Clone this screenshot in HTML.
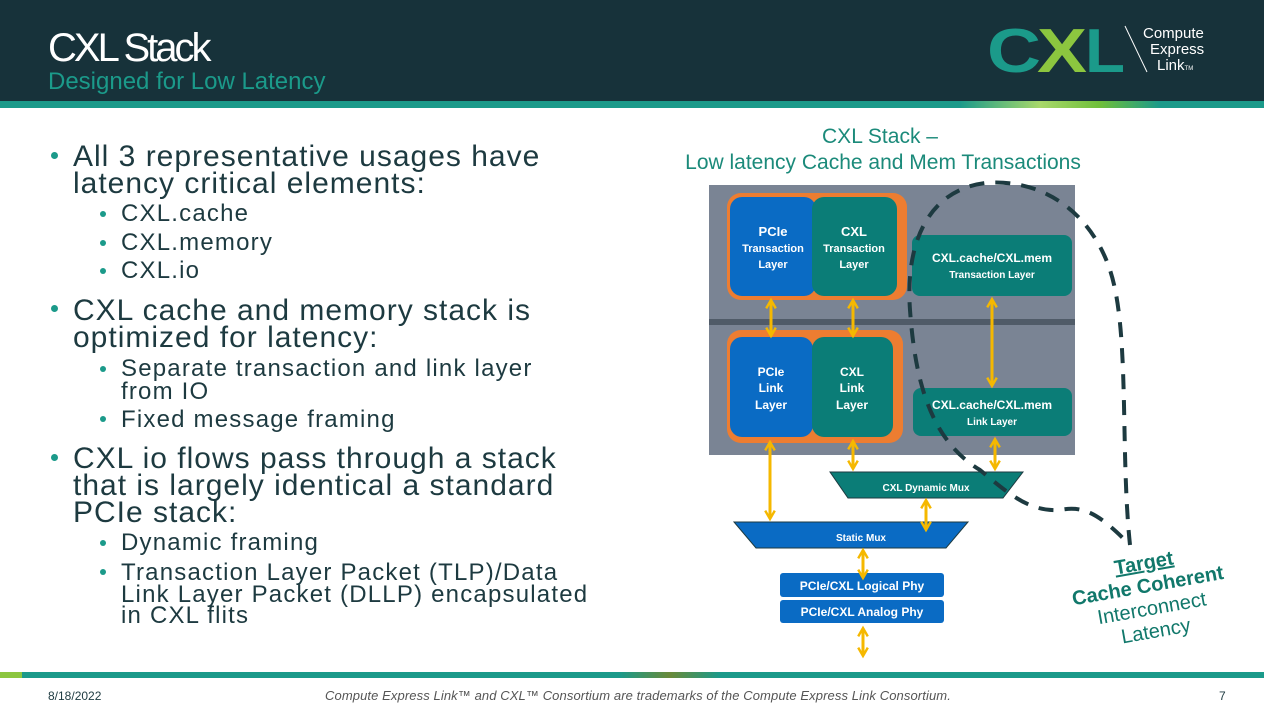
<!DOCTYPE html>
<html><head><meta charset="utf-8"><style>
*{margin:0;padding:0;box-sizing:border-box}
body{width:1264px;height:707px;position:relative;overflow:hidden;background:#fff;font-family:"Liberation Sans",sans-serif;}
.l{position:absolute;white-space:nowrap;color:#1d3a40;line-height:1;}
.m{font-size:30px;left:73px;letter-spacing:1px}
.s{font-size:24px;left:121px;letter-spacing:1.2px}
.b{position:absolute;border-radius:50%;background:#1b9a8a}
</style></head><body>
<div style="position:absolute;left:0;top:0;width:1264px;height:101px;background:#17323a"></div>
<div style="position:absolute;left:0;top:101px;width:1264px;height:7px;background:#1b9a8a"></div>
<div style="position:absolute;left:960px;top:101px;width:200px;height:7px;background:linear-gradient(90deg,#1b9a8a,#a8d86a 40%,#6fbf3a 70%,#1b9a8a)"></div>
<div class="l" style="left:48px;top:28px;font-size:40px;color:#fff;letter-spacing:-3px;font-family:'Liberation Sans Narrow','Liberation Sans',sans-serif">CXL Stack</div>
<div class="l" style="left:48px;top:70px;font-size:24px;color:#1b9a8a">Designed for Low Latency</div>
<svg style="position:absolute;left:985px;top:20px" width="250" height="60">
<text x="2" y="52" font-family="Liberation Sans" font-weight="bold" font-size="62" fill="#1b9a8a" textLength="54" lengthAdjust="spacingAndGlyphs">C</text>
<text x="52" y="52" font-family="Liberation Sans" font-weight="bold" font-size="62" fill="#8cc63f" textLength="50" lengthAdjust="spacingAndGlyphs">X</text>
<text x="100" y="52" font-family="Liberation Sans" font-weight="bold" font-size="62" fill="#1b9a8a" textLength="40" lengthAdjust="spacingAndGlyphs">L</text>
<line x1="140" y1="6" x2="162" y2="52" stroke="#fff" stroke-width="1"/>
<text x="158" y="18" font-family="Liberation Sans" font-size="15" fill="#fff">Compute</text>
<text x="165" y="34" font-family="Liberation Sans" font-size="15" fill="#fff">Express</text>
<text x="172" y="50" font-family="Liberation Sans" font-size="15" fill="#fff">Link<tspan font-size="6">TM</tspan></text>
</svg>

<div class="b" style="left:51px;top:152px;width:7px;height:7px"></div>
<div class="l m" style="top:142px">All 3 representative usages have</div>
<div class="l m" style="top:169px">latency critical elements:</div>
<div class="b" style="left:100px;top:211px;width:6px;height:6px"></div>
<div class="l s" style="top:202px">CXL.cache</div>
<div class="b" style="left:100px;top:240px;width:6px;height:6px"></div>
<div class="l s" style="top:231px">CXL.memory</div>
<div class="b" style="left:100px;top:268px;width:6px;height:6px"></div>
<div class="l s" style="top:259px">CXL.io</div>
<div class="b" style="left:51px;top:305px;width:7px;height:7px"></div>
<div class="l m" style="top:296px">CXL cache and memory stack is</div>
<div class="l m" style="top:323px">optimized for latency:</div>
<div class="b" style="left:100px;top:366px;width:6px;height:6px"></div>
<div class="l s" style="top:357px">Separate transaction and link layer</div>
<div class="l s" style="top:380px">from IO</div>
<div class="b" style="left:100px;top:416px;width:6px;height:6px"></div>
<div class="l s" style="top:408px">Fixed message framing</div>
<div class="b" style="left:51px;top:454px;width:7px;height:7px"></div>
<div class="l m" style="top:444px">CXL io flows pass through a stack</div>
<div class="l m" style="top:471px">that is largely identical a standard</div>
<div class="l m" style="top:498px">PCIe stack:</div>
<div class="b" style="left:100px;top:540px;width:6px;height:6px"></div>
<div class="l s" style="top:531px">Dynamic framing</div>
<div class="b" style="left:100px;top:569px;width:6px;height:6px"></div>
<div class="l s" style="top:561px">Transaction Layer Packet (TLP)/Data</div>
<div class="l s" style="top:583px">Link Layer Packet (DLLP) encapsulated</div>
<div class="l s" style="top:604px">in CXL flits</div>

<div class="l" style="left:630px;top:126px;width:500px;text-align:center;font-size:21px;color:#1b8a7a">CXL Stack –</div>
<div class="l" style="left:633px;top:152px;width:500px;text-align:center;font-size:21px;color:#1b8a7a">Low latency Cache and Mem Transactions</div>

<svg style="position:absolute;left:0;top:0" width="1264" height="707">
<defs>
<marker id="ah" viewBox="0 0 10 10" refX="8" refY="5" markerWidth="4" markerHeight="4" orient="auto-start-reverse"><path d="M1,1 L8,5 L1,9" fill="none" stroke="#f5b800" stroke-width="2"/></marker>
</defs>
<rect x="709" y="185" width="366" height="270" fill="#7a8494"/>
<rect x="709" y="319" width="366" height="6" fill="#505b68"/>
<rect x="727" y="193" width="180" height="107" rx="14" fill="#ed7d31"/>
<rect x="730" y="197" width="86" height="99" rx="12" fill="#0a6bc4"/>
<rect x="812" y="197" width="85" height="99" rx="12" fill="#0b7d77"/>
<rect x="912" y="235" width="160" height="61" rx="8" fill="#0b7d77"/>
<rect x="727" y="330" width="176" height="113" rx="14" fill="#ed7d31"/>
<rect x="730" y="337" width="83" height="100" rx="12" fill="#0a6bc4"/>
<rect x="812" y="337" width="81" height="100" rx="12" fill="#0b7d77"/>
<rect x="913" y="388" width="159" height="48" rx="8" fill="#0b7d77"/>
<polygon points="830,472 1023,472 1003,498 848,498" fill="#0b7d77" stroke="#1d3a40" stroke-width="1"/>
<polygon points="734,522 968,522 946,548 756,548" fill="#0a6bc4" stroke="#1d3a40" stroke-width="1"/>
<rect x="780" y="573" width="164" height="24" rx="3" fill="#0a6bc4"/>
<rect x="780" y="600" width="164" height="23" rx="3" fill="#0a6bc4"/>
<g font-family="Liberation Sans" font-weight="bold" fill="#fff" text-anchor="middle">
<text x="773" y="236" font-size="13">PCIe</text><text x="773" y="252" font-size="11">Transaction</text><text x="773" y="268" font-size="11">Layer</text>
<text x="854" y="236" font-size="13">CXL</text><text x="854" y="252" font-size="11">Transaction</text><text x="854" y="268" font-size="11">Layer</text>
<text x="992" y="262" font-size="12">CXL.cache/CXL.mem</text><text x="992" y="278" font-size="10">Transaction Layer</text>
<text x="771" y="376" font-size="12">PCIe</text><text x="771" y="392" font-size="12">Link</text><text x="771" y="409" font-size="12">Layer</text>
<text x="852" y="376" font-size="12">CXL</text><text x="852" y="392" font-size="12">Link</text><text x="852" y="409" font-size="12">Layer</text>
<text x="992" y="409" font-size="12">CXL.cache/CXL.mem</text><text x="992" y="425" font-size="10">Link Layer</text>
<text x="926" y="491" font-size="10">CXL Dynamic Mux</text>
<text x="861" y="541" font-size="10">Static Mux</text>
<text x="862" y="590" font-size="12">PCIe/CXL Logical Phy</text>
<text x="862" y="616" font-size="12">PCIe/CXL Analog Phy</text>
</g>
<g stroke="#f5b800" stroke-width="3" marker-start="url(#ah)" marker-end="url(#ah)">
<line x1="771" y1="300" x2="771" y2="336"/>
<line x1="853" y1="300" x2="853" y2="336"/>
<line x1="992" y1="299" x2="992" y2="386"/>
<line x1="770" y1="442" x2="770" y2="519"/>
<line x1="853" y1="441" x2="853" y2="469"/>
<line x1="995" y1="439" x2="995" y2="469"/>
<line x1="926" y1="500" x2="926" y2="530"/>
<line x1="863" y1="550" x2="863" y2="578"/>
<line x1="863" y1="628" x2="863" y2="656"/>
</g>
<path d="M1130,545 C1120,450 1130,330 1110,270 C1090,210 1040,178 985,183 C930,190 905,240 910,310 C915,380 930,440 980,470 C1010,495 1030,512 1060,510 C1085,505 1100,515 1130,545" fill="none" stroke="#1d3a40" stroke-width="4" stroke-dasharray="15 11"/>
</svg>
<div style="position:absolute;left:1060px;top:552px;width:180px;text-align:center;transform:rotate(-10deg);transform-origin:center;color:#11786b;font-size:20px;line-height:23px;font-weight:bold">
<div style="text-decoration:underline">Target</div>
<div>Cache Coherent</div>
<div style="font-weight:normal">Interconnect</div>
<div style="font-weight:normal">Latency</div>
</div>

<div style="position:absolute;left:0;top:672px;width:1264px;height:6px;background:#1b9a8a"></div>
<div style="position:absolute;left:0;top:672px;width:22px;height:6px;background:#8cc63f"></div>
<div style="position:absolute;left:620px;top:672px;width:100px;height:6px;background:linear-gradient(90deg,#1b9a8a,#6a8a3a,#1b9a8a)"></div>
<div class="l" style="left:48px;top:690px;font-size:12px;color:#1d3a40">8/18/2022</div>
<div class="l" style="left:325px;top:689px;font-size:13px;color:#555;font-style:italic;letter-spacing:0.1px">Compute Express Link™ and CXL™ Consortium are trademarks of the Compute Express Link Consortium.</div>
<div class="l" style="left:1219px;top:690px;font-size:12px;color:#1d3a40">7</div>
</body></html>
